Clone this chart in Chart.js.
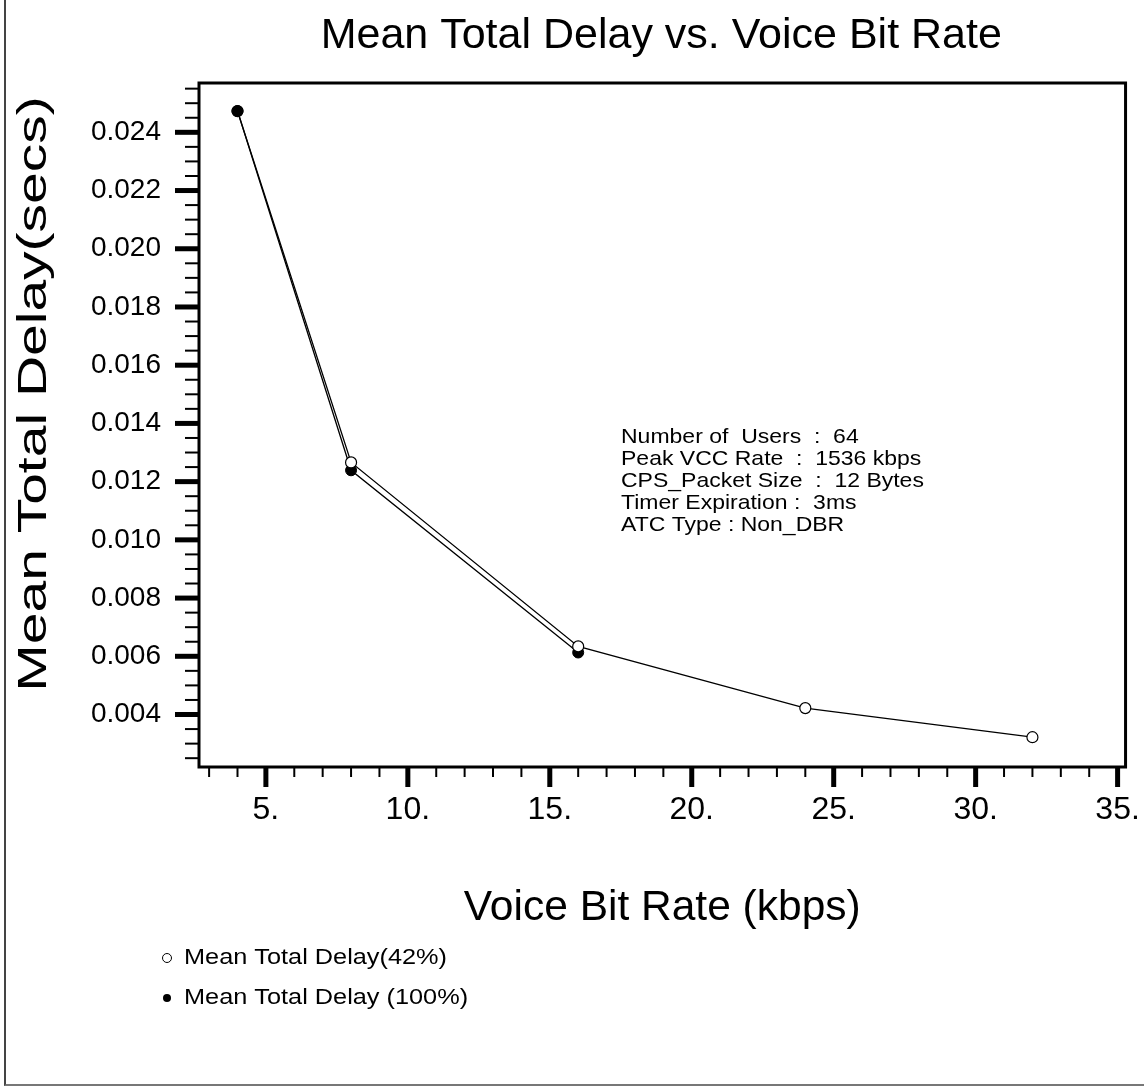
<!DOCTYPE html>
<html>
<head>
<meta charset="utf-8">
<script src="https://cdn.jsdelivr.net/npm/chart.js@4.4.1/dist/chart.umd.min.js"></script>
<style>
  html, body { margin: 0; padding: 0; background: #fff; }
  #wrap { position: relative; width: 1144px; height: 1087px; }
  #frame { position: absolute; left: 4px; top: 0; width: 1140px; height: 1084px;
           border-left: 2px solid #444; border-bottom: 2px solid #777; box-sizing: content-box; }
  canvas { position: absolute; left: 0; top: 0; }
</style>
</head>
<body>
<div id="wrap">
  <div id="frame"></div>
  <canvas id="c" width="1144" height="1087"></canvas>
</div>
<script>
"use strict";
// Mean total delay vs voice bit rate, two load levels.
const bitRates42 = [4, 8, 16, 24, 32];
const delay42 = [0.02473, 0.01266, 0.00634, 0.00422, 0.00322];
const bitRates100 = [4, 8, 16];
const delay100 = [0.02473, 0.01239, 0.00613];
const xRange = [2.644, 35.28];
const yRange = [0.002197, 0.025694];
const titleText = "Mean Total Delay vs. Voice Bit Rate";
const xTitle = "Voice Bit Rate (kbps)";
const yTitle = "Mean Total Delay(secs)";
const notes = [
  "Number of  Users  :  64",
  "Peak VCC Rate  :  1536 kbps",
  "CPS_Packet Size  :  12 Bytes",
  "Timer Expiration :  3ms",
  "ATC Type : Non_DBR"
];
const legendLabels = ["Mean Total Delay(42%)", "Mean Total Delay (100%)"];

const FONT = "'Liberation Sans', Arial, Helvetica, sans-serif";
const pts = (xs, ys) => xs.map((x, i) => ({ x, y: ys[i] }));
const isMult = (v, s) => Math.abs(v / s - Math.round(v / s)) < 1e-6;

// text drawn with a horizontal stretch (the original output widens its small labels)
function wideText(ctx, s, x, y, sx) {
  ctx.save(); ctx.translate(x, y); ctx.scale(sx, 1); ctx.fillText(s, 0, 0); ctx.restore();
}

// plot box, tick marks (long for labelled, short for minor), texts
const decor = {
  id: "decor",
  beforeDatasetsDraw(chart) {
    const { ctx, chartArea: a } = chart;
    const xs = chart.scales.x, ys = chart.scales.y;
    ctx.save();
    ctx.strokeStyle = "#000";
    ctx.lineWidth = 3;
    ctx.strokeRect(a.left, a.top, a.right - a.left, a.bottom - a.top);
    xs.ticks.forEach(t => {
      const px = xs.getPixelForValue(t.value), major = isMult(t.value, 5);
      ctx.lineWidth = major ? 5 : 2;
      ctx.beginPath(); ctx.moveTo(px, a.bottom); ctx.lineTo(px, a.bottom + (major ? 20 : 10)); ctx.stroke();
    });
    ys.ticks.forEach(t => {
      const py = ys.getPixelForValue(t.value), major = isMult(t.value, 0.002);
      ctx.lineWidth = major ? 5 : 2;
      ctx.beginPath(); ctx.moveTo(a.left, py); ctx.lineTo(a.left - (major ? 24 : 14), py); ctx.stroke();
    });
    ctx.restore();
  },
  afterDraw(chart) {
    const { ctx, chartArea: a } = chart;
    const cx = (a.left + a.right) / 2;
    ctx.save();
    ctx.fillStyle = "#000";
    ctx.textAlign = "center"; ctx.textBaseline = "middle";
    // main title
    ctx.font = "43px " + FONT;
    ctx.fillText(titleText, cx - 1, 36);
    // x axis title
    ctx.font = "42.5px " + FONT;
    ctx.fillText(xTitle, cx, 908);
    // y axis title (stretched along its length, as in the original plot)
    ctx.save();
    ctx.translate(35, 394);
    ctx.rotate(-Math.PI / 2);
    ctx.font = "41px " + FONT;
    ctx.scale(1.39, 1);
    ctx.fillText(yTitle, 0, 0);
    ctx.restore();
    // annotation
    ctx.textAlign = "left";
    ctx.font = "21px " + FONT;
    notes.forEach((s, i) => wideText(ctx, s, 621, 437 + i * 22, 1.095));
    // legend
    ctx.font = "22px " + FONT;
    ctx.lineWidth = 1;
    ctx.beginPath(); ctx.arc(167, 958, 4.5, 0, Math.PI * 2); ctx.stroke();
    ctx.beginPath(); ctx.arc(167, 998, 4, 0, Math.PI * 2); ctx.fill();
    wideText(ctx, legendLabels[0], 184, 958, 1.15);
    wideText(ctx, legendLabels[1], 184, 998, 1.15);
    ctx.restore();
  }
};

new Chart(document.getElementById("c"), {
  type: "scatter",
  data: {
    datasets: [
      { label: legendLabels[0], data: pts(bitRates42, delay42), showLine: true,
        borderColor: "#000", borderWidth: 1.3, pointRadius: 5.5, pointBorderWidth: 1.2,
        pointBorderColor: "#000",
        pointBackgroundColor: c => c.dataIndex === 0 ? "rgba(0,0,0,0)" : "#fff",
        pointHoverRadius: 5.5 },
      { label: legendLabels[1], data: pts(bitRates100, delay100), showLine: true,
        borderColor: "#000", borderWidth: 1.3, pointRadius: 5.5, pointBorderWidth: 1,
        pointBorderColor: "#000", pointBackgroundColor: "#000", pointHoverRadius: 5.5 }
    ]
  },
  options: {
    responsive: false, animation: false, events: [],
    layout: { padding: { top: 83, right: 18, bottom: 0, left: 0 } },
    plugins: { legend: { display: false }, tooltip: { enabled: false }, title: { display: false } },
    scales: {
      x: {
        type: "linear", min: xRange[0], max: xRange[1],
        afterFit: s => { s.height = 320; },
        border: { display: false },
        grid: { drawOnChartArea: false, drawTicks: true, tickLength: 20, color: "rgba(0,0,0,0)" },
        ticks: { stepSize: 1, includeBounds: false, autoSkip: false, maxRotation: 0, padding: 4,
                 color: "#000", font: { family: FONT, size: 32 },
                 callback: v => isMult(v, 5) ? Math.round(v) + "." : "" }
      },
      y: {
        type: "linear", min: yRange[0], max: yRange[1],
        afterFit: s => { s.width = 199; },
        border: { display: false },
        grid: { drawOnChartArea: false, drawTicks: true, tickLength: 24, color: "rgba(0,0,0,0)" },
        ticks: { stepSize: 0.0005, includeBounds: false, autoSkip: false, padding: 14,
                 color: "#000", font: { family: FONT, size: 28 },
                 callback: v => isMult(v, 0.002) ? v.toFixed(3) : "" }
      }
    }
  },
  plugins: [decor]
});
</script>
</body>
</html>
